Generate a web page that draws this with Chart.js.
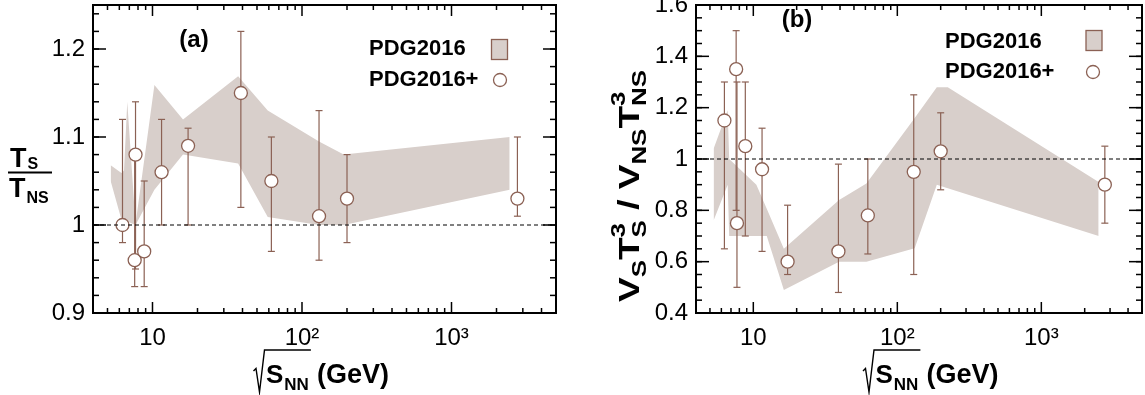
<!DOCTYPE html>
<html>
<head>
<meta charset="utf-8">
<script src="https://cdn.jsdelivr.net/npm/chart.js@4.4.1/dist/chart.umd.min.js"></script>
<style>
  body { margin: 0; background: #fff; width: 1145px; height: 395px; overflow: hidden; position: relative; }
  canvas { position: absolute; top: 0; }
  #chartA { left: 0; }
  #chartB { left: 572px; }
</style>
</head>
<body>
<canvas id="chartA" width="572" height="395"></canvas>
<canvas id="chartB" width="573" height="395"></canvas>
<script>
// collision energies (GeV) of the PDG2016+ points
const energies = [6.3, 7.6, 7.7, 8.8, 11.5, 17.3, 39, 62.4, 130, 200, 2760]

// (a) T_S / T_NS
const tRatio     = [1.00, 0.96, 1.08, 0.97, 1.06, 1.09, 1.15, 1.05, 1.01, 1.03, 1.03]
const tRatioLow  = [0.98, 0.93, 0.95, 0.93, 1.00, 1.00, 1.02, 0.97, 0.96, 0.98, 1.01]
const tRatioHigh = [1.12, 1.08, 1.14, 1.05, 1.12, 1.11, 1.22, 1.10, 1.13, 1.08, 1.10]

// (a) PDG2016 band
const bandAX    = [5.25, 6.2, 6.45, 6.78, 7.7, 10.3, 16, 37.4, 59, 130, 190, 2450]
const bandAHigh = [1.068, 1.059, 1.062, 1.14, 1.001, 1.159, 1.12, 1.169, 1.13, 1.095, 1.08, 1.10]
const bandALow  = [1.05, 1.006, 1.005, 1.004, 1.0, 1.04, 1.08, 1.07, 1.009, 1.0, 1.0, 1.04]

// (b) V_S T_S^3 / V_NS T_NS^3
const vtRatio     = [1.15, 1.35, 0.75, 1.05, 0.96, 0.60, 0.64, 0.78, 0.95, 1.03, 0.90]
const vtRatioLow  = [0.65, 0.80, 0.50, 0.70, 0.64, 0.55, 0.48, 0.63, 0.55, 0.88, 0.75]
const vtRatioHigh = [1.30, 1.50, 1.30, 1.30, 1.12, 0.82, 0.98, 1.00, 1.25, 1.18, 1.05]

// (b) PDG2016 band
const bandBX    = [5.3, 6.64, 6.8, 10.5, 12.4, 16.3, 39.4, 61, 132, 188, 224, 2500]
const bandBHigh = [1.04, 1.19, 1.00, 0.90, 0.806, 0.65, 0.84, 0.905, 1.16, 1.28, 1.28, 0.91]
const bandBLow  = [0.76, 0.90, 0.70, 0.70, 0.70, 0.49, 0.60, 0.60, 0.652, 0.90, 0.886, 0.70]

// axes
const xMajor = [10, 100, 1000]
const xTickLabels = ['10', '10²', '10³']
const yMajorA = [0.9, 1.0, 1.1, 1.2]
const yLabelsA = ['0.9', '1', '1.1', '1.2']
const yMajorB = [0.4, 0.6, 0.8, 1.0, 1.2, 1.4, 1.6]
const yLabelsB = ['0.4', '0.6', '0.8', '1', '1.2', '1.4', '1.6']
const legendNames = ['PDG2016', 'PDG2016+']

const BAND = 'rgb(216,207,203)'
const BROWN = 'rgb(139,97,84)'
const FONT = '"Liberation Sans", Arial, Helvetica, sans-serif'

function logMinors(min, max) {
    let out = []
    for (let d = 1; d <= 1000; d *= 10) {
        for (let m = 2; m < 10; m++) {
            if (m * d > min && m * d < max) out.push(m * d)
        }
    }
    return out
}
function linMinors(min, max, step) {
    let out = []
    for (let v = min; v <= max + 1e-9; v += step) out.push(+v.toFixed(4))
    return out
}

function line(ctx, x1, y1, x2, y2) {
    ctx.beginPath(); ctx.moveTo(x1, y1); ctx.lineTo(x2, y2); ctx.stroke()
}

// no extra room for the edge labels, the frame sits where the reference has it
function noScalePadding(s) {
    s.paddingTop = 0; s.paddingBottom = 0; s.paddingLeft = 0; s.paddingRight = 0
}

// sqrt(S_NN) (GeV) under the x axis
function energyTitle(ctx, x0) {
    ctx.save()
    ctx.fillStyle = '#000'; ctx.strokeStyle = '#000'
    ctx.textAlign = 'left'; ctx.textBaseline = 'alphabetic'
    ctx.font = 'bold 26px ' + FONT
    const sx = x0 + 12.5
    ctx.fillText('S', sx, 383)
    const wS = ctx.measureText('S').width
    ctx.font = 'bold 17px ' + FONT
    ctx.fillText('NN', sx + wS + 1, 390)
    const end = sx + wS + 1 + ctx.measureText('NN').width + 2
    ctx.lineWidth = 1.4
    ctx.beginPath()
    ctx.moveTo(x0, 371); ctx.lineTo(x0 + 2.5, 368.5); ctx.lineTo(x0 + 6, 392)
    ctx.lineTo(x0 + 11, 350); ctx.lineTo(end, 350)
    ctx.stroke()
    ctx.font = 'bold 27px ' + FONT
    ctx.fillText('(GeV)', end + 6, 383)
    ctx.restore()
}

// T_S / T_NS as a fraction
function tTitle(ctx) {
    ctx.save()
    ctx.fillStyle = '#000'; ctx.strokeStyle = '#000'
    ctx.textAlign = 'left'; ctx.textBaseline = 'alphabetic'
    ctx.font = 'bold 27px ' + FONT
    const wT = ctx.measureText('T').width
    ctx.fillText('T', 10, 167)
    ctx.fillText('T', 9, 197)
    ctx.font = 'bold 16px ' + FONT
    ctx.fillText('S', 10 + wT + 1, 169)
    ctx.fillText('NS', 9 + wT + 1, 203)
    ctx.lineWidth = 2
    line(ctx, 8, 172.5, 52, 172.5)
    ctx.restore()
}

// V_S T_S^3 / V_NS T_NS^3, rotated
function vtTitle(ctx, bx, by, length) {
    const big = 'bold 30px ' + FONT, small = 'bold 21px ' + FONT
    const parts = [
        ['V', big, 0], ['S', small, 7], ['T', big, 0], [['S', '3'], small, 0],
        [' / ', big, 0], ['V', big, 0], ['NS', small, 7], ['T', big, 0], [['NS', '3'], small, 0]
    ]
    ctx.save()
    ctx.fillStyle = '#000'
    ctx.textAlign = 'left'; ctx.textBaseline = 'alphabetic'
    const width = p => {
        ctx.font = p[1]
        if (Array.isArray(p[0])) return Math.max(ctx.measureText(p[0][0]).width, ctx.measureText(p[0][1]).width)
        return ctx.measureText(p[0]).width
    }
    let total = parts.reduce((s, p) => s + width(p), 0)
    let k = Math.min(1.25, Math.max(0.9, length / total))
    ctx.translate(bx, by)
    ctx.rotate(-Math.PI / 2)
    ctx.scale(k, 1)
    let x = 0
    parts.forEach(p => {
        ctx.font = p[1]
        if (Array.isArray(p[0])) {
            ctx.fillText(p[0][0], x, 7)
            ctx.fillText(p[0][1], x, -14)
        } else {
            ctx.fillText(p[0], x, p[2])
        }
        x += width(p)
    })
    ctx.restore()
}

function makePanel(canvasId, p) {
    const xMinor = logMinors(4, 5000)
    const yMinor = linMinors(p.yMin, p.yMax, p.yMinorStep)

    const decor = {
        id: 'decor_' + canvasId,
        beforeDatasetDraw(chart, args) {
            if (args.index !== 0) return
            // error bars under the circles
            const {ctx, scales: {x, y}} = chart
            ctx.save()
            ctx.strokeStyle = BROWN
            ctx.lineWidth = 1.2
            energies.forEach((e, i) => {
                const px = x.getPixelForValue(e)
                const lo = y.getPixelForValue(p.low[i]), hi = y.getPixelForValue(p.high[i])
                line(ctx, px, lo, px, hi)
                line(ctx, px - 3.5, lo, px + 3.5, lo)
                line(ctx, px - 3.5, hi, px + 3.5, hi)
            })
            ctx.restore()
        },
        afterDraw(chart) {
            const {ctx, chartArea: a, scales: {x, y}} = chart
            ctx.save()
            // reference line at 1
            ctx.strokeStyle = '#000'
            ctx.lineWidth = 1
            ctx.setLineDash([4, 3])
            const y1 = y.getPixelForValue(1)
            line(ctx, a.left, y1, a.right, y1)
            ctx.setLineDash([])

            // ticks on all four sides, pointing in
            ctx.lineWidth = 1.5
            xMinor.forEach(v => {
                const px = x.getPixelForValue(v)
                line(ctx, px, a.bottom, px, a.bottom - 5)
                line(ctx, px, a.top, px, a.top + 5)
            })
            xMajor.forEach(v => {
                const px = x.getPixelForValue(v)
                line(ctx, px, a.bottom, px, a.bottom - 11)
                line(ctx, px, a.top, px, a.top + 11)
            })
            yMinor.forEach(v => {
                const py = y.getPixelForValue(v)
                line(ctx, a.left, py, a.left + 6, py)
                line(ctx, a.right, py, a.right - 6, py)
            })
            p.yMajor.forEach(v => {
                const py = y.getPixelForValue(v)
                line(ctx, a.left, py, a.left + 13, py)
                line(ctx, a.right, py, a.right - 13, py)
            })
            ctx.lineWidth = 2
            ctx.strokeRect(a.left, a.top, a.right - a.left, a.bottom - a.top)

            // panel tag
            ctx.fillStyle = '#000'
            ctx.font = 'bold 24px ' + FONT
            ctx.textAlign = 'center'; ctx.textBaseline = 'middle'
            ctx.fillText(p.tag, p.tagX, p.tagY)

            // legend
            const L = p.legend
            ctx.font = 'bold 22px ' + FONT
            ctx.textAlign = 'left'; ctx.textBaseline = 'alphabetic'
            ctx.fillText(legendNames[0], L.x, L.y1)
            ctx.fillText(legendNames[1], L.x, L.y2)
            ctx.fillStyle = BAND
            ctx.fillRect(L.sx, L.sy, 16, 20)
            ctx.strokeStyle = BROWN
            ctx.lineWidth = 1.3
            ctx.strokeRect(L.sx, L.sy, 16, 20)
            ctx.fillStyle = '#fff'
            ctx.beginPath(); ctx.arc(L.cx, L.cy, 6.5, 0, Math.PI * 2); ctx.fill(); ctx.stroke()

            // axis titles
            energyTitle(ctx, p.titleX)
            p.yTitle(ctx)
            ctx.restore()
        }
    }

    return new Chart(document.getElementById(canvasId), {
        type: 'scatter',
        data: {
            datasets: [{
                label: legendNames[1],
                data: energies.map((e, i) => ({x: e, y: p.values[i]})),
                pointRadius: 6.5,
                pointHoverRadius: 6.5,
                pointBackgroundColor: '#fff',
                pointBorderColor: BROWN,
                pointBorderWidth: 1.3
            }, {
                type: 'line',
                label: legendNames[0],
                data: p.bandX.map((e, i) => ({x: e, y: p.bandHigh[i]})),
                borderColor: 'rgba(0,0,0,0)',
                backgroundColor: BAND,
                pointRadius: 0,
                tension: 0,
                fill: '+1'
            }, {
                type: 'line',
                label: 'band low',
                data: p.bandX.map((e, i) => ({x: e, y: p.bandLow[i]})),
                borderColor: 'rgba(0,0,0,0)',
                pointRadius: 0,
                tension: 0,
                fill: false
            }]
        },
        options: {
            responsive: false,
            animation: false,
            events: [],
            layout: {
                autoPadding: false,
                padding: {left: 0, right: p.padRight, top: 5, bottom: 0}
            },
            plugins: {
                legend: {display: false},
                tooltip: {enabled: false}
            },
            scales: {
                x: {
                    type: 'logarithmic',
                    min: 4,
                    max: 5000,
                    grid: {display: false, drawTicks: false},
                    border: {display: false},
                    afterBuildTicks: s => { s.ticks = xMajor.map(v => ({value: v})) },
                    afterFit: s => { s.height = 82; noScalePadding(s) },
                    ticks: {
                        callback: (v, i) => xTickLabels[i],
                        font: {family: FONT, size: 24},
                        color: '#000',
                        padding: 11,
                        maxRotation: 0,
                        autoSkip: false
                    }
                },
                y: {
                    min: p.yMin,
                    max: p.yMax,
                    grid: {display: false, drawTicks: false},
                    border: {display: false},
                    afterBuildTicks: s => { s.ticks = p.yMajor.map(v => ({value: v})) },
                    afterFit: s => { s.width = p.yWidth; noScalePadding(s) },
                    ticks: {
                        callback: (v, i) => p.yLabels[i],
                        font: {family: FONT, size: 24},
                        color: '#000',
                        padding: 8,
                        autoSkip: false
                    }
                }
            }
        },
        plugins: [decor]
    })
}

makePanel('chartA', {
    values: tRatio, low: tRatioLow, high: tRatioHigh,
    bandX: bandAX, bandHigh: bandAHigh, bandLow: bandALow,
    yMin: 0.9, yMax: 1.25, yMinorStep: 0.02,
    yMajor: yMajorA, yLabels: yLabelsA,
    yWidth: 93, padRight: 16,
    tag: '(a)', tagX: 194, tagY: 40,
    legend: {x: 369, y1: 55, y2: 86, sx: 491.5, sy: 39.5, cx: 500, cy: 80},
    titleX: 253.5,
    yTitle: ctx => tTitle(ctx)
})

makePanel('chartB', {
    values: vtRatio, low: vtRatioLow, high: vtRatioHigh,
    bandX: bandBX, bandHigh: bandBHigh, bandLow: bandBLow,
    yMin: 0.4, yMax: 1.6, yMinorStep: 0.05,
    yMajor: yMajorB, yLabels: yLabelsB,
    yWidth: 124, padRight: 3,
    tag: '(b)', tagX: 225, tagY: 20,
    legend: {x: 373, y1: 48, y2: 78, sx: 514, sy: 30.5, cx: 521, cy: 72},
    titleX: 291,
    yTitle: ctx => vtTitle(ctx, 67, 302, 232)
})
</script>
</body>
</html>
